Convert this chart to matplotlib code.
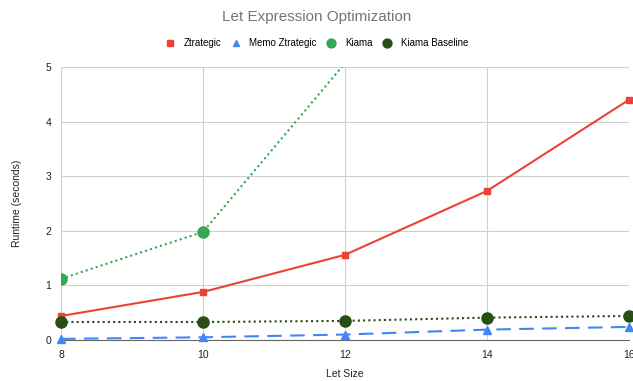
import matplotlib.pyplot as plt

plt.rcParams['font.family'] = ['Liberation Sans', 'DejaVu Sans']

let_size = [8, 10, 12, 14, 16]
ztrategic = [0.44, 0.88, 1.56, 2.73, 4.40]
memo_ztrategic = [0.02, 0.05, 0.10, 0.19, 0.24]
kiama_size = [8, 10, 12]
kiama = [1.12, 1.98, 5.07]
kiama_baseline = [0.33, 0.33, 0.35, 0.41, 0.44]

y_max = 5

fig = plt.figure(figsize=(6.33, 3.81), dpi=100)
ax = fig.add_axes([61 / 633, 1 - 340 / 381, 568 / 633, 273 / 381])

ax.plot(let_size, ztrategic, color='#ea4335', lw=1.5, marker='s', ms=5,
        label='Ztrategic', clip_on=False, zorder=3)
ax.plot(let_size, memo_ztrategic, color='#4285f4', lw=1.5, ls=(0, (7, 4)),
        marker='^', ms=6, label='Memo Ztrategic', clip_on=False, zorder=3)
# points above the view window get no marker, only the line running out of it
visible = [i for i, v in enumerate(kiama) if v <= y_max]
ax.plot(kiama_size, kiama, color='#34a853', lw=1.5, ls=(0, (1, 1.5)),
        marker='o', ms=8, markevery=visible, label='Kiama', zorder=3)
ax.plot(let_size, kiama_baseline, color='#274e13', lw=1.5, ls=(0, (1, 1.5)),
        marker='o', ms=8, label='Kiama Baseline', clip_on=False, zorder=3)

ax.set_xlim(8, 16)
ax.set_ylim(0, y_max)
ax.set_xticks(let_size)
ax.set_yticks(range(y_max + 1))
ax.grid(True, color='#d0d0d0', lw=0.8)
for side in ['top', 'right', 'left']:
    ax.spines[side].set_visible(False)
ax.spines['bottom'].set_color('#666666')
ax.tick_params(length=0, labelsize=7.5, colors='#222222', pad=7)

ax.set_xlabel('Let Size', fontsize=7.5, color='#222222', labelpad=7)
ax.set_ylabel('Runtime (seconds)', fontsize=7.5, color='#222222', labelpad=17)

fig.suptitle('Let Expression Optimization', x=0.5, y=0.975, fontsize=11,
             color='#757575')
fig.legend(loc='center', bbox_to_anchor=(0.5, 1 - 43 / 381), ncol=4,
           frameon=False, fontsize=7, handlelength=1, handletextpad=0.9,
           columnspacing=1.0, markerscale=0.8)
legend = fig.legends[0]
for line in legend.get_lines():
    line.set_linestyle('none')

fig.savefig('out.png', dpi=100)
